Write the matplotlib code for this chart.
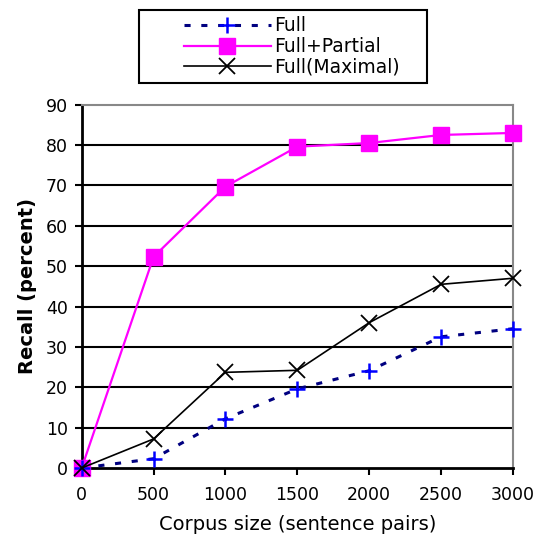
import matplotlib
matplotlib.use('Agg')
import matplotlib.pyplot as plt
from matplotlib.patches import Rectangle

corpus_size = [0, 500, 1000, 1500, 2000, 2500, 3000]
full = [0, 2.3, 12.2, 19.6, 24.1, 32.5, 34.5]
full_partial = [0, 52.3, 69.7, 79.6, 80.5, 82.5, 83.0]
full_maximal = [0, 7.2, 23.7, 24.2, 36.0, 45.5, 47.0]

yticks = list(range(0, 100, 10))
xticks = list(range(0, 3500, 500))


def plot_recall():
    fig = plt.figure(figsize=(5.36, 5.39), dpi=100)
    ax = fig.add_axes([0.1524, 0.1317, 0.8046, 0.6741])

    for y in yticks[1:-1]:
        ax.axhline(y, color='black', lw=1.5, zorder=1)

    l1, = ax.plot(corpus_size, full, color='#000080', lw=2.2,
                  linestyle=(0, (2, 3.5)), zorder=3)
    m1, = ax.plot(corpus_size, full, color='#0000ff', lw=0, marker='+',
                  markersize=12, markeredgewidth=1.8, zorder=4)
    l2, = ax.plot(corpus_size, full_partial, color='#ff00ff', lw=1.6,
                  marker='s', markersize=11, zorder=3)
    l3, = ax.plot(corpus_size, full_maximal, color='black', lw=1.2,
                  marker='x', markersize=11, markeredgewidth=1.3, zorder=5)

    ax.set(xlim=(0, 3000), ylim=(0, 90))
    ax.set_xticks(xticks)
    ax.set_yticks(yticks)
    ax.tick_params(axis='both', direction='out', length=5, width=1.5,
                   labelsize=12.5, pad=5)
    for lab in ax.get_xticklabels() + ax.get_yticklabels():
        lab.set_fontweight('medium')
    ax.tick_params(axis='x', pad=8)

    for side in ['top', 'right']:
        ax.spines[side].set_color('#888888')
        ax.spines[side].set_linewidth(1.5)
    for side in ['left', 'bottom']:
        ax.spines[side].set_linewidth(2)

    for line in [l1, m1, l2, l3]:
        line.set_clip_on(False)

    ax.set_xlabel('Corpus size (sentence pairs)', fontsize=14, labelpad=8)
    ax.set_ylabel('Recall (percent)', fontsize=14, fontweight='bold',
                  labelpad=6)

    # legend frame
    fig.patches.append(Rectangle((0.259, 0.846), 0.538, 0.135,
                                 transform=fig.transFigure, fill=False,
                                 edgecolor='black', lw=1.5))
    fig.legend(
        [(l1, m1), l2, l3],
        ['Full', 'Full+Partial', 'Full(Maximal)'],
        loc='center', bbox_to_anchor=(0.545, 0.9135),
        fontsize=13.5, frameon=False,
        handlelength=4.6, borderpad=0, labelspacing=0.1,
        handletextpad=0.2, borderaxespad=0
    )

    return fig


fig = plot_recall()
fig.savefig('out.png', dpi=100)
